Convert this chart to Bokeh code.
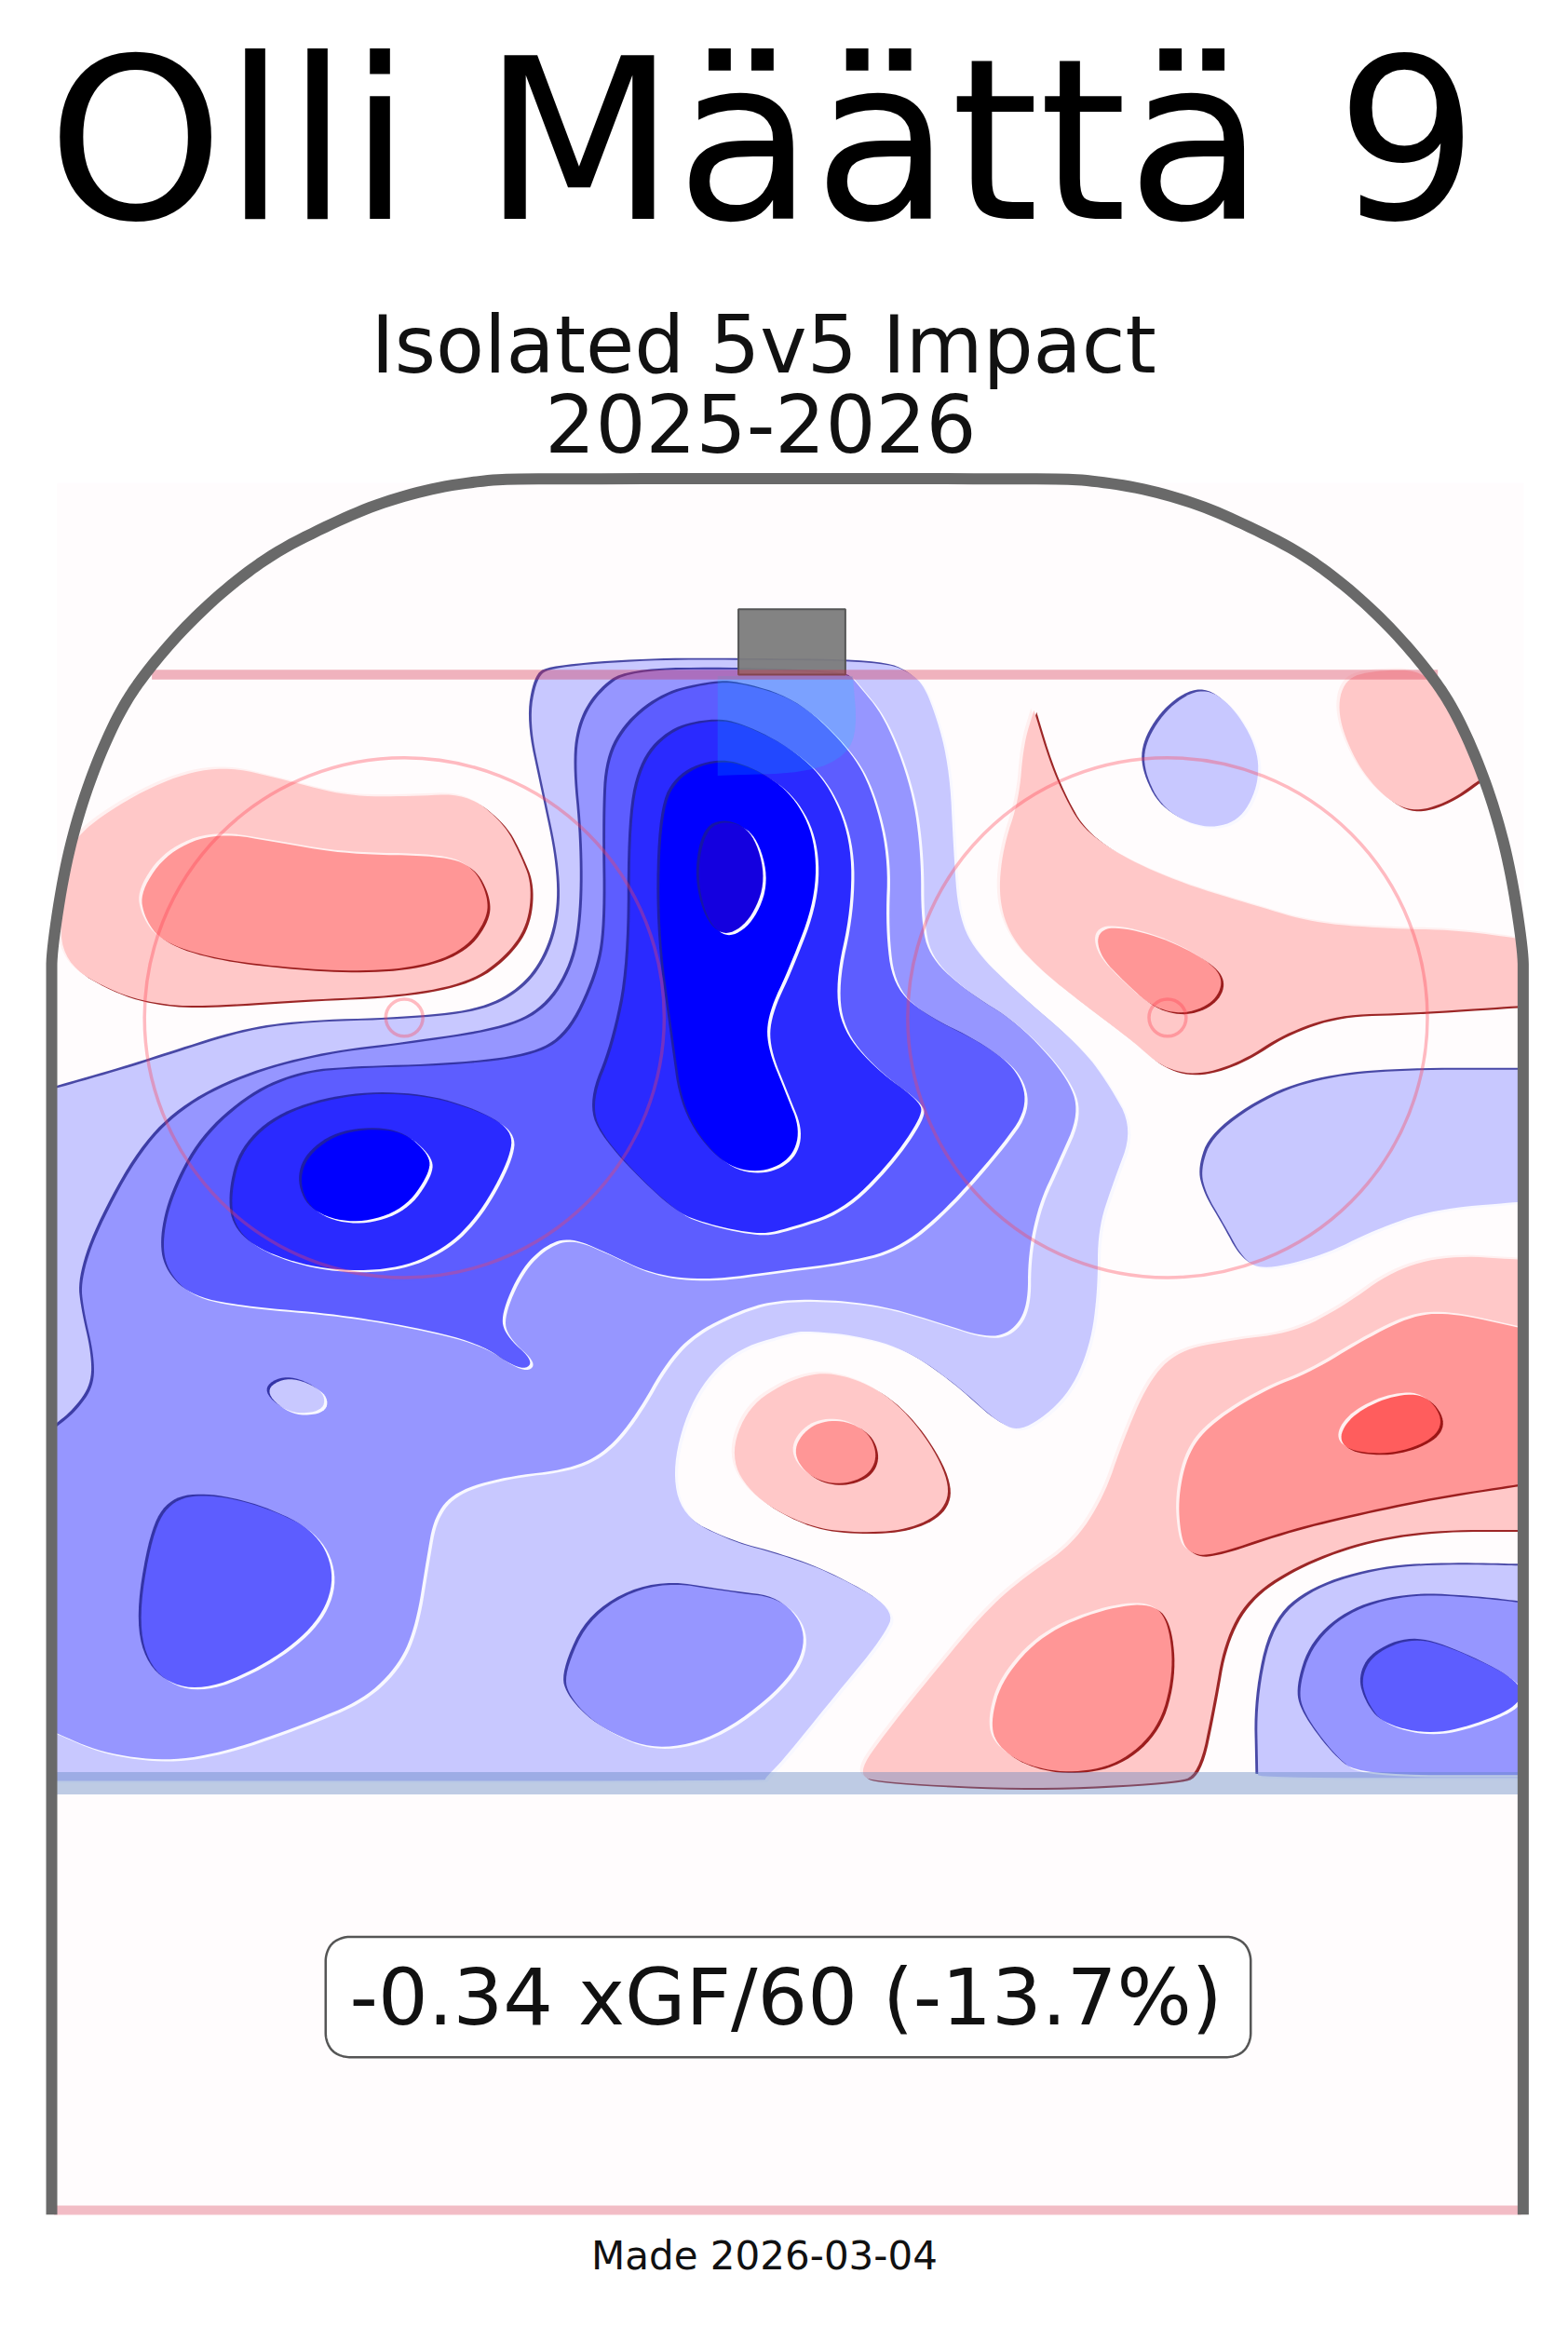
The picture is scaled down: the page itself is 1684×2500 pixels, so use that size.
from bokeh.plotting import figure
from bokeh.models import Range1d
from bokeh.embed import file_html
from bokeh.resources import INLINE
from bokeh.core.properties import value

# ---- texts ----
TITLE = "Olli Määttä 9"
SUB1 = "Isolated 5v5 Impact"
SUB2 = "2025-2026"
BOX_TEXT = "-0.34 xGF/60 (-13.7%)"
MADE = "Made 2026-03-04"

# ---- contour outlines (x, y), one list per region ----
B1_TOPRIGHT = [(810,462),(787,475),(771,499),(770,519),(783,545),(810,558),(834,553),(847,530),(847,504),(830,475)]
B1_BODY = [(356,486),(361,456),(371,449),(438,444),(497,444),(594,445),(616,454),(626,469),(639,513),(642,575),(645,615),(656,640),(686,669),(727,704),(746,729),(763,760),(749,797),(739,828),(739,868),(734,906),(719,940),(689,964),(672,958),(645,933),(611,909),(577,899),(544,896),(533,897),(493,909),(466,940),(452,987),(459,1021),(493,1038),(527,1047),(560,1059),(603,1083),(594,1103),(560,1144),(527,1185),(515,1197),(515,1199),(36,1199),(36,1199),(36,1199),(36,733),(36,733),(85,719),(116,709),(163,694),(204,688),(272,686),(323,681),(351,667),(368,645),(377,615),(376,580),(366,533)]
B1_RIGHT = [(808,787),(817,763),(857,736),(898,724),(949,720),(1024,720),(1024,720),(1024,720),(1024,809),(1024,809),(965,814),(925,828),(891,845),(851,855),(837,848),(824,824),(812,804)]
B1_LOWRIGHT = [(847,1197),(847,1193),(846,1144),(857,1093),(884,1069),(932,1055),(982,1053),(1024,1054),(1024,1054),(1024,1197),(1024,1197),(1024,1197)]
B2_BODY = [(423,451),(403,466),(391,486),(387,513),(392,565),(392,615),(386,650),(368,679),(339,693),(272,703),(221,709),(170,722),(126,743),(95,773),(65,828),(54,862),(56,882),(63,912),(63,933),(51,950),(36,962),(36,962),(36,1166),(36,1166),(68,1180),(112,1186),(153,1179),(204,1161),(245,1144),(269,1120),(280,1093),(287,1049),(292,1021),(306,1004),(340,994),(384,989),(408,977),(428,953),(449,916),(469,896),(503,880),(527,875),(560,875),(594,879),(628,889),(665,901),(682,896),(692,879),(692,845),(699,811),(712,783),(727,749),(718,724),(686,689),(653,669),(626,645),(620,620),(620,575),(614,531),(596,483),(576,459),(571,453),(500,450)]
B2_ISLAND = [(379,1127),(398,1086),(442,1064),(493,1072),(527,1076),(544,1100),(533,1130),(486,1168),(442,1179),(405,1164),(384,1144)]
B2_LOWRIGHT = [(874,1137),(884,1106),(911,1083),(952,1073),(999,1076),(1024,1079),(1024,1079),(1024,1195),(1024,1195),(915,1195),(898,1181),(878,1154)]
B1_HOLE = [(177,936),(194,926),(218,936),(218,950),(194,952)]
B3_BODY = [(477,460),(448,467),(423,486),(409,511),(407,550),(408,625),(402,657),(383,697),(358,711),(306,717),(238,719),(204,722),(170,736),(136,766),(116,804),(109,834),(112,855),(129,873),(170,880),(221,884),(272,892),(323,904),(350,923),(360,917),(340,899),(337,885),(350,855),(367,838),(384,833),(408,843),(439,858),(476,862),(527,855),(567,850),(604,841),(636,815),(673,773),(692,746),(686,721),(661,702),(624,684),(601,664),(596,625),(598,575),(586,528),(569,501),(537,471),(497,459)]
B3_ISLAND = [(92,1096),(102,1032),(116,1009),(143,1006),(180,1015),(214,1032),(226,1062),(214,1093),(180,1120),(136,1139),(105,1130)]
B3_LOWRIGHT = [(916,1130),(925,1113),(952,1102),(982,1111),(1024,1132),(1024,1147),(999,1159),(965,1168),(932,1161),(921,1147)]
B4_COLUMN = [(477,485),(453,491),(433,511),(424,550),(424,650),(413,704),(398,741),(405,766),(453,815),(476,824),(510,831),(527,828),(567,815),(599,783),(621,751),(619,741),(591,721),(567,694),(562,662),(573,612),(573,565),(557,526),(532,503),(497,486)]
B4_LEFT = [(155,804),(163,773),(190,749),(238,736),(286,737),(323,748),(345,761),(343,780),(323,817),(299,841),(265,855),(218,855),(177,843),(158,827)]
B5_COLUMN = [(485,511),(458,521),(445,545),(443,625),(453,699),(460,749),(485,783),(510,790),(532,781),(539,761),(529,736),(516,704),(517,682),(532,650),(549,605),(549,565),(534,535),(510,518)]
B5_LEFT = [(201,797),(207,777),(231,761),(269,760),(289,777),(289,790),(272,814),(241,824),(211,817)]
B6_CORE = [(490,552),(475,558),(469,588),(475,617),(487,631),(505,620),(516,592),(507,560)]

R1_LEFT = [(42,648),(40,610),(44,574),(61,553),(109,525),(150,515),(192,525),(234,536),(276,536),(314,534),(339,554),(350,575),(358,595),(355,623),(340,644),(316,661),(272,670),(204,673),(146,677),(112,677),(78,669)]
R1_TOPRIGHT = [(900,480),(905,457),(925,451),(962,451),(985,490),(1000,522),(1000,522),(975,540),(950,547),(930,535),(912,512)]
R1_RIGHT = [(696,478),(696,478),(706,511),(716,535),(729,558),(756,577),(797,595),(847,610),(884,621),(932,625),(982,626),(1024,632),(1024,632),(1024,677),(1024,677),(949,682),(901,683),(864,696),(837,714),(807,724),(783,719),(763,701),(727,674),(702,654),(681,632),(672,605),(675,571),(686,538),(689,501)]
R1_CENTER = [(491,981),(503,947),(533,928),(560,923),(594,936),(621,963),(640,998),(635,1018),(611,1030),(577,1032),(544,1028),(507,1008)]
R1_LOWRIGHT = [(576,1195),(598,1164),(628,1127),(662,1086),(689,1062),(722,1040),(743,1008),(756,970),(773,930),(793,909),(830,902),(871,897),(905,879),(938,855),(975,845),(1024,848),(1024,848),(1024,1030),(1024,1030),(965,1030),(915,1038),(871,1055),(840,1076),(824,1106),(817,1147),(807,1195),(790,1200),(696,1205),(594,1200)]
R2_LEFT = [(94,600),(113,573),(146,560),(192,568),(234,575),(297,576),(318,583),(328,602),(328,618),(313,639),(282,651),(238,654),(190,651),(143,645),(109,634),(97,618)]
R2_RIGHT = [(738,629),(749,623),(783,631),(814,647),(824,660),(817,675),(797,683),(776,678),(756,660),(741,644)]
R2_CENTER = [(533,977),(544,960),(564,955),(584,963),(591,980),(584,994),(564,1000),(544,994)]
R2_LOWRIGHT = [(795,1035),(793,1008),(800,977),(817,957),(851,936),(884,923),(918,902),(952,885),(979,884),(1024,894),(1024,894),(1024,999),(1024,999),(965,1008),(908,1020),(864,1031),(814,1048),(800,1045)]
R2_DROP = [(667,1157),(675,1130),(702,1100),(743,1083),(776,1079),(787,1093),(790,1127),(780,1164),(753,1188),(719,1194),(689,1188),(670,1174)]
R3_SPOT = [(901,967),(911,952),(935,940),(959,938),(972,955),(965,969),(938,979),(908,977)]

BLUE_LEVELS = [
    ("#c8c8ff", [B1_TOPRIGHT, B1_BODY, B1_RIGHT, B1_LOWRIGHT]),
    ("#9696ff", [B2_BODY, B2_ISLAND, B2_LOWRIGHT]),
    ("#c8c8ff", [B1_HOLE]),
    ("#5d5dff", [B3_BODY, B3_ISLAND, B3_LOWRIGHT]),
    ("#2a2aff", [B4_COLUMN, B4_LEFT]),
    ("#0000ff", [B5_COLUMN, B5_LEFT]),
    ("#1400df", [B6_CORE]),
]
RED_LEVELS = [
    ("#ffc8c8", [R1_LEFT, R1_TOPRIGHT, R1_RIGHT, R1_CENTER, R1_LOWRIGHT]),
    ("#ff9696", [R2_LEFT, R2_RIGHT, R2_CENTER, R2_LOWRIGHT, R2_DROP]),
    ("#ff5d5d", [R3_SPOT]),
]

# ---- rink furniture ----
RINK = [(34.5,1491),(34.5,1480),(34.5,660),(34.5,640),(43,585),(54,543),(68,505),(84,472),(103,446),(126,420),(153,395),(184,372),(221.5,353),(255,338.5),(293,328),(328,323),(351,322),(709,322),(732,323),(767,328),(805,338.5),(838.5,353),(876,372),(907,395),(934,420),(957,446),(976,472),(992,505),(1006,543),(1017,585),(1025.5,640),(1025.5,660),(1025.5,1480),(1025.5,1491)]
BOX = [(231,1304),(240,1304),(821,1304),(830,1304),(838,1308),(842,1316),(842,1325),(842,1364),(842,1373),(838,1381),(830,1385),(821,1385),(240,1385),(231,1385),(223,1381),(219,1373),(219,1364),(219,1325),(219,1316),(223,1308)]
CREASE = [(483,455),(483,455),(574,455),(574,455),(577,490),(570,508),(545,520),(483,522),(483,522)]
FACEOFF_X = [272, 786]
FACEOFF_Y = [685, 685]
FACEOFF_R = 175
DOT_R = 12.5
GOAL_Y = 454
BLUE_Y = 1200.5
END_Y = 1488


def smooth(pts, closed=True, rounds=3):
    """Round the corners of a traced outline so that it draws as a curve."""
    pts = list(pts)
    for _ in range(rounds):
        out = []
        n = len(pts)
        last = n if closed else n - 1
        if not closed:
            out.append(pts[0])
        for i in range(last):
            a, b = pts[i], pts[(i + 1) % n]
            out.append((0.75 * a[0] + 0.25 * b[0], 0.75 * a[1] + 0.25 * b[1]))
            out.append((0.25 * a[0] + 0.75 * b[0], 0.25 * a[1] + 0.75 * b[1]))
        if not closed:
            out.append(pts[-1])
        pts = out
    return [q[0] for q in pts], [q[1] for q in pts]


K = 1684 / 1056
p = figure(width=1668, height=2484, x_range=Range1d(0, 1668 / K), y_range=Range1d(2484 / K, 0),
           toolbar_location=None, output_backend="svg", min_border=0, outline_line_color=None,
           background_fill_color="#ffffff", border_fill_color="#ffffff")
p.xaxis.visible = False
p.yaxis.visible = False
p.grid.visible = False

# ice
p.quad(left=38, right=1026, top=325, bottom=1490, fill_color="#fffcfd", line_color=None)

DARK_SHIFT = (1.8, 1.2)
WHITE_SHIFT = (2.0, 1.4)


def level(color, shapes, upper_left, lower_right, ul_shift, lr_shift):
    for shape in shapes:
        xs, ys = smooth(shape)
        p.patch([x + lr_shift[0] for x in xs], [y + lr_shift[1] for y in ys], fill_color=lower_right[0], fill_alpha=lower_right[1], line_color=None)
        p.patch([x - ul_shift[0] for x in xs], [y - ul_shift[1] for y in ys], fill_color=upper_left[0], fill_alpha=upper_left[1], line_color=None)
        p.patch(xs, ys, fill_color=color, line_color=None)


for color, shapes in BLUE_LEVELS:
    level(color, shapes, ("#1c1c90", 0.8), ("#f8f8ff", 1.0), DARK_SHIFT, WHITE_SHIFT)
for color, shapes in RED_LEVELS:
    level(color, shapes, ("#fff0f0", 1.0), ("#8b0000", 0.85), WHITE_SHIFT, DARK_SHIFT)

# crease tint, net, lines
xs, ys = smooth(CREASE, rounds=2)
p.patch(xs, ys, fill_color="#00d4ff", fill_alpha=0.18, line_color=None)
p.quad(left=497, right=569, top=410, bottom=454, fill_color="#7c7c7c", fill_alpha=0.95, line_color="#555555", line_width=2)
p.segment(x0=[102], x1=[968], y0=[GOAL_Y], y1=[GOAL_Y], line_color="#d32844", line_alpha=0.35, line_width=10.5)
p.segment(x0=[38], x1=[1022], y0=[BLUE_Y], y1=[BLUE_Y], line_color="#5c82be", line_alpha=0.4, line_width=24)
p.segment(x0=[36], x1=[1024], y0=[END_Y], y1=[END_Y], line_color="#d32844", line_alpha=0.3, line_width=10)
p.circle(x=FACEOFF_X, y=FACEOFF_Y, radius=FACEOFF_R, fill_color=None, line_color="#ff4050", line_alpha=0.35, line_width=3.5)
p.circle(x=FACEOFF_X, y=FACEOFF_Y, radius=DOT_R, fill_color=None, line_color="#ff4050", line_alpha=0.35, line_width=3.5)

# boards
xs, ys = smooth(RINK, closed=False)
p.line(xs, ys, line_color="#696969", line_width=12, line_join="round")

# value box
xs, ys = smooth(BOX, rounds=3)
p.patch(xs, ys, fill_color="#ffffff", line_color="#555555", line_width=2.5)

FONT = value("DejaVu Sans")
p.text(x=[513.5], y=[95], text=[TITLE], text_font=FONT, text_font_size=value("241px"), text_color="#000000", text_align="center", text_baseline="middle")
p.text(x=[514], y=[232], text=[SUB1], text_font=FONT, text_font_size=value("85px"), text_color="#111111", text_align="center", text_baseline="middle")
p.text(x=[512], y=[285], text=[SUB2], text_font=FONT, text_font_size=value("85px"), text_color="#111111", text_align="center", text_baseline="middle")
p.text(x=[529], y=[1345], text=[BOX_TEXT], text_font=FONT, text_font_size=value("84.5px"), text_color="#111111", text_align="center", text_baseline="middle")
p.text(x=[514.5], y=[1519], text=[MADE], text_font=FONT, text_font_size=value("42px"), text_color="#111111", text_align="center", text_baseline="middle")

open("out.html", "w").write(file_html(p, INLINE))
